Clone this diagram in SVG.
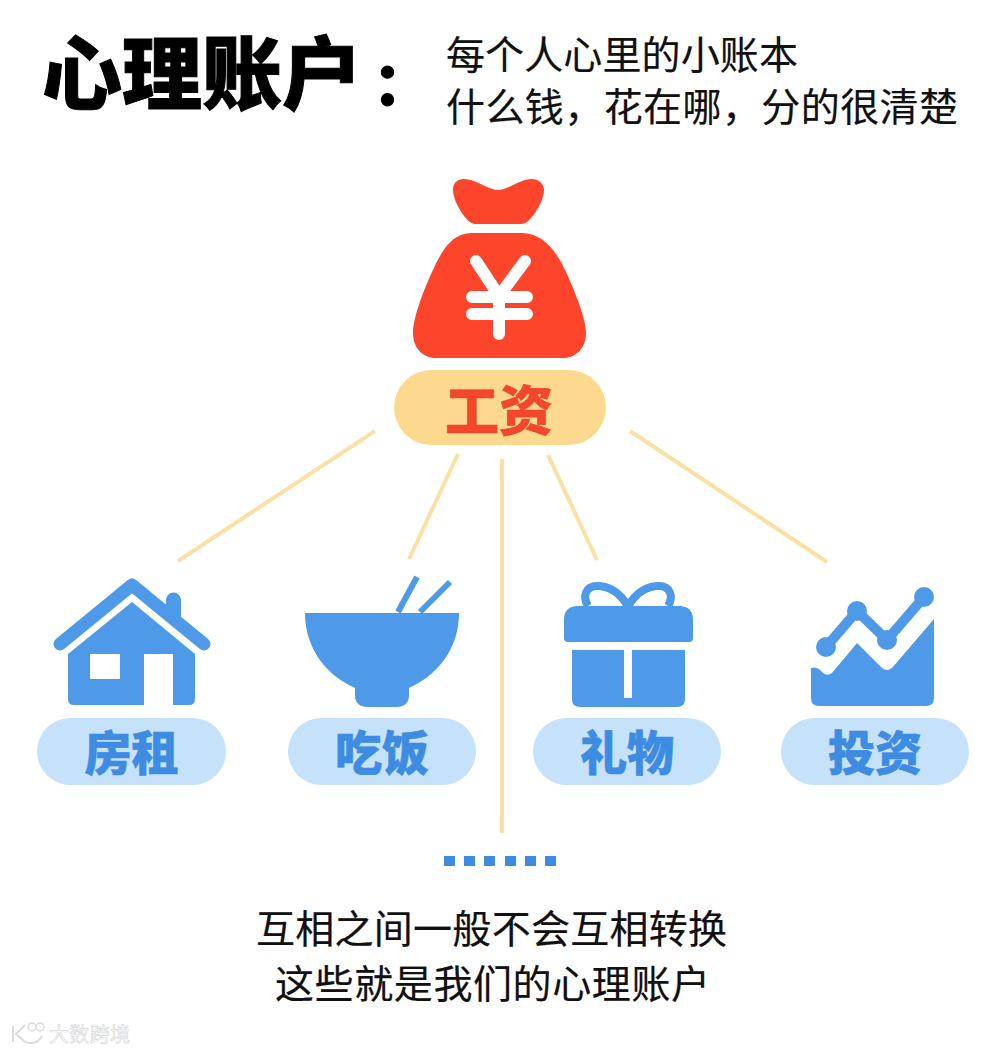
<svg xmlns="http://www.w3.org/2000/svg" width="1000" height="1052" viewBox="0 0 1000 1052">
<style>
text{font-family:"Noto Sans CJK SC","Noto Sans",sans-serif;text-anchor:middle}
.title{font-size:80px;font-weight:900;fill:#000;stroke:#000;stroke-width:1px;text-anchor:start}
.body{font-size:39px;font-weight:400;fill:#111;stroke:#111;stroke-width:.2px}
.sub{text-anchor:start}
.lab{font-size:47px;font-weight:900;fill:#3d8ce2;stroke:#3d8ce2;stroke-width:.6px}
.pill{fill:#c6e1fa}
.blue{fill:#4f9ae8}
.conn{stroke:#fbe0a5;stroke-width:4;fill:none}
.wm{font-size:20px;font-weight:400;fill:#fff;stroke:#d8d8d8;stroke-width:.7px;text-anchor:start}
</style>
<rect width="1000" height="1052" fill="#fff"/>
<g id="title">
<text class="title" x="42" y="103">心理账户</text>
<text class="title" x="373" y="105" font-size="58" style="font-size:58px">：</text>
<text class="body sub" x="446" y="69" textLength="352">每个人心里的小账本</text>
<text class="body sub" x="446" y="121" textLength="512">什么钱，花在哪，分的很清楚</text>
</g>
<g id="connectors">
<line class="conn" x1="375" y1="431" x2="178" y2="561"/>
<line class="conn" x1="458" y1="454" x2="409" y2="559"/>
<line class="conn" x1="502" y1="459" x2="502" y2="833"/>
<line class="conn" x1="548" y1="455" x2="597" y2="560"/>
<line class="conn" x1="630" y1="431" x2="827" y2="562"/>
</g>
<g id="salary">
<path fill="#fc452b" d="M453 190C453 183 457 179 464 179C476 179 488 190 498 190C508 190 520 179 532 179C539 179 544 184 544 190C544 202 530 224 522 224H475C467 224 453 202 453 190Z"/>
<path fill="#fc452b" d="M472 233H522C542 233 556 250 566 272C577 296 586 320 586 333C586 348 576 358 563 358H436C423 358 413 348 413 333C413 320 421 296 432 272C442 250 452 233 472 233Z"/>
<path fill="none" stroke="#fff" stroke-width="12" stroke-linecap="round" stroke-linejoin="round" d="M476 261L499 296L525 261M472 297H527M472 314H527M499 296V334"/>
<rect x="394" y="370" width="212" height="75" rx="37.5" fill="#fcd98f"/>
<text x="499" y="431" font-size="54" font-weight="900" fill="#f2472b" stroke="#f2472b" stroke-width=".6">工资</text>
</g>
<g id="rent">
<path class="blue" d="M166 610V600A7.500 7.500 0 0 1 181 600V625L166 612Z"/>
<path fill="none" stroke="#4f9ae8" stroke-width="13" stroke-linecap="round" stroke-linejoin="round" d="M60 644L132 585L204 644"/>
<path class="blue" d="M132 602L195 654V699Q195 705 189 705H173V654H144V705H74Q68 705 68 699V654Z"/>
<rect x="90" y="654" width="30" height="25" fill="#fff"/>
<rect class="pill" x="37" y="718" width="189" height="67" rx="33.500"/>
<text class="lab" x="131.500" y="770">房租</text>
</g>
<g id="meal">
<path fill="none" stroke="#4f9ae8" stroke-width="6" d="M398 612L417 577M420 612L450 582"/>
<path class="blue" d="M305 613H459C459 650 436 676 409 688V695Q409 707 396 707H368Q355 707 355 695V688C328 676 305 650 305 613Z"/>
<rect class="pill" x="288" y="718" width="188" height="67" rx="33.500"/>
<text class="lab" x="382" y="770">吃饭</text>
</g>
<g id="gift">
<path fill="none" stroke="#4f9ae8" stroke-width="8" d="M628 607C620 591 607 586 597 586C586 586 582 596 588 606M628 607C636 591 649 586 659 586C670 586 674 596 668 606"/>
<path class="blue" d="M578 606H679Q693 606 693 620V638Q693 642 689 642H568Q564 642 564 638V620Q564 606 578 606Z"/>
<path class="blue" d="M572 650H624V698H632V650H685V699Q685 707 677 707H580Q572 707 572 699Z"/>
<rect class="pill" x="533" y="718" width="188" height="67" rx="33.500"/>
<text class="lab" x="627" y="770">礼物</text>
</g>
<g id="invest">
<path fill="none" stroke="#4f9ae8" stroke-width="10" d="M826 647L857 611L887 640L924 597"/>
<circle class="blue" cx="826" cy="647" r="10"/>
<circle class="blue" cx="857" cy="611" r="10"/>
<circle class="blue" cx="887" cy="640" r="10"/>
<circle class="blue" cx="924" cy="597" r="10"/>
<path class="blue" d="M811 668Q817 666 822 672Q827 677 832 673L857 643L882 668Q887 672 892 668L934 619V698Q934 706 926 706H819Q811 706 811 698Z"/>
<rect class="pill" x="781" y="718" width="188" height="67" rx="33.500"/>
<text class="lab" x="875" y="770">投资</text>
</g>
<g id="ellipsis" fill="#3d8ce2">
<rect x="444" y="856" width="11" height="10"/>
<rect x="464" y="856" width="11" height="10"/>
<rect x="484" y="856" width="11" height="10"/>
<rect x="505" y="856" width="11" height="10"/>
<rect x="525" y="856" width="11" height="10"/>
<rect x="545" y="856" width="11" height="10"/>
</g>
<g id="caption">
<text class="body" x="491.500" y="943" textLength="471">互相之间一般不会互相转换</text>
<text class="body" x="492.500" y="998" textLength="435">这些就是我们的心理账户</text>
</g>
<g id="watermark">
<path fill="none" stroke="#dcdcdc" stroke-width="2" d="M13 1026V1042M25 1025L16 1034L25 1042M21 1038C27 1046 38 1044 42 1036"/>
<circle cx="32" cy="1027" r="4" fill="none" stroke="#dcdcdc" stroke-width="1.500"/>
<circle cx="40" cy="1027" r="4" fill="none" stroke="#dcdcdc" stroke-width="1.500"/>
<text class="wm" x="49" y="1042" textLength="81">大数跨境</text>
</g>
</svg>
